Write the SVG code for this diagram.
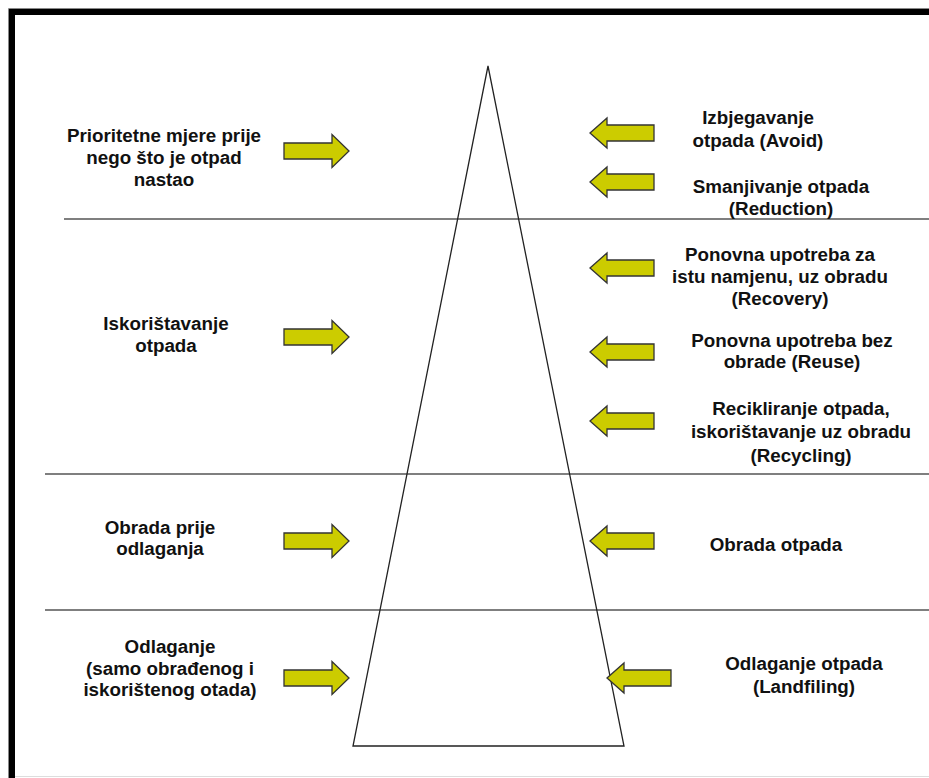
<svg xmlns="http://www.w3.org/2000/svg" width="929" height="778" viewBox="0 0 929 778">
<style>
text{font-family:"Liberation Sans",Arial,sans-serif;font-weight:bold;font-size:18.8px;fill:#111;text-anchor:middle}
.arr{fill:#cccc00;stroke:#333;stroke-width:1.3;stroke-linejoin:miter}
.sep{stroke:#555;stroke-width:1.5}
</style>
<defs>
<path id="ar" d="M0,-8 H48 V-16.5 L65,0 L48,16.5 V8 H0 Z"/>
<path id="al" d="M0,0 L17,-15 V-8 H64 V8 H17 V15 Z"/>
</defs>
<rect x="0" y="0" width="929" height="778" fill="#fff"/>
<path d="M12,778 V12 H929" fill="none" stroke="#000" stroke-width="6"/>
<line x1="8.5" y1="778" x2="8.5" y2="8.5" stroke="#888" stroke-width="1"/>
<line x1="8.5" y1="8.5" x2="929" y2="8.5" stroke="#888" stroke-width="1"/>
<line x1="15" y1="776.5" x2="929" y2="776.5" stroke="#ddd" stroke-width="1"/>
<g id="separators">
<line class="sep" x1="64" y1="219" x2="929" y2="219"/>
<line class="sep" x1="45" y1="474" x2="929" y2="474"/>
<line class="sep" x1="45" y1="610" x2="929" y2="610"/>
</g>
<g id="pyramid"><path d="M488,66 L353,746 H624 Z" fill="none" stroke="#222" stroke-width="1.3"/></g>
<g id="connectors">
<use href="#ar" class="arr" x="284" y="151"/>
<use href="#ar" class="arr" x="284" y="337"/>
<use href="#ar" class="arr" x="284" y="541"/>
<use href="#ar" class="arr" x="284" y="678"/>
<use href="#al" class="arr" x="590" y="133"/>
<use href="#al" class="arr" x="590" y="182"/>
<use href="#al" class="arr" x="590" y="268"/>
<use href="#al" class="arr" x="590" y="352"/>
<use href="#al" class="arr" x="590" y="421"/>
<use href="#al" class="arr" x="590" y="541"/>
<use href="#al" class="arr" x="607" y="678"/>
</g>
<g id="n-prioritetne"><text x="164" y="142">Prioritetne mjere prije</text><text x="164" y="164">nego što je otpad</text><text x="164" y="186">nastao</text></g>
<g id="n-iskoristavanje"><text x="166" y="330">Iskorištavanje</text><text x="166" y="352">otpada</text></g>
<g id="n-obrada-prije"><text x="160" y="534">Obrada prije</text><text x="160" y="555">odlaganja</text></g>
<g id="n-odlaganje"><text x="170" y="653">Odlaganje</text><text x="170" y="675">(samo obrađenog i</text><text x="170" y="696">iskorištenog otada)</text></g>
<g id="n-avoid"><text x="758" y="124">Izbjegavanje</text><text x="758" y="147">otpada (Avoid)</text></g>
<g id="n-reduction"><text x="781" y="193">Smanjivanje otpada</text><text x="781" y="215">(Reduction)</text></g>
<g id="n-recovery"><text x="780" y="261">Ponovna upotreba za</text><text x="780" y="283">istu namjenu, uz obradu</text><text x="780" y="305">(Recovery)</text></g>
<g id="n-reuse"><text x="792" y="347">Ponovna upotreba bez</text><text x="792" y="368">obrade (Reuse)</text></g>
<g id="n-recycling"><text x="801" y="415">Recikliranje otpada,</text><text x="801" y="438">iskorištavanje uz obradu</text><text x="801" y="462">(Recycling)</text></g>
<g id="n-obrada-otpada"><text x="776" y="551">Obrada otpada</text></g>
<g id="n-landfiling"><text x="804" y="670">Odlaganje otpada</text><text x="804" y="693">(Landfiling)</text></g>
</svg>
